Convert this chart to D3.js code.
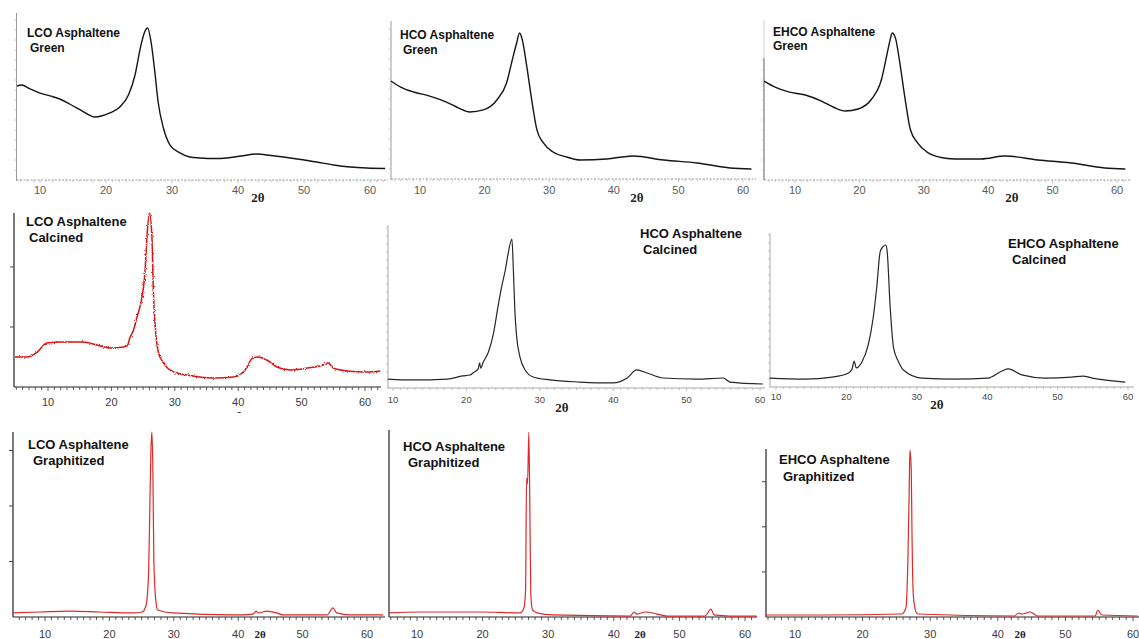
<!DOCTYPE html>
<html>
<head>
<meta charset="utf-8">
<script src="https://cdn.jsdelivr.net/npm/d3@7"></script>
<style>
  body { margin: 0; background: #fff; }
  svg { display: block; }
</style>
</head>
<body>
<svg id="chart" width="1139" height="639"></svg>
<script>
// XRD patterns of LCO / HCO / EHCO asphaltene: green, calcined, graphitized.
// 2θ in degrees, intensity as % of the strongest reflection in each pattern.

const tickLabels = [10, 20, 30, 40, 50, 60];

const lcoGreenTheta = [6.5,7.2,8.5,10,11.5,13,14.5,16.1,17.2,18.3,19.3,20.6,22.1,23.4,24.4,25.2,25.8,26.3,26.9,27.4,27.9,28.7,29.7,31.2,32.7,34.2,36.5,38.3,40.5,42.8,45,46.9,49.5,51.9,54.5,57,59.5,62.3];
const lcoGreenInt   = [61.8,62.5,59.9,57.2,55.3,53.3,50.0,46.1,43.4,41.4,42.1,44.1,48.0,55.9,69.1,86.8,96.7,100,88.8,71.1,51.3,34.2,23.0,17.8,15.1,14.5,14.1,14.5,15.8,17.1,16.1,15.1,13.5,11.8,9.9,8.6,7.9,7.6];

const hcoGreenTheta = [5.5,7.0,9.0,11.5,14.1,16.0,17.7,19.8,21.9,23.4,24.4,25.0,25.4,25.8,26.5,27.3,28.1,29.1,30.6,32.7,34.8,38.9,43.0,47.7,52.9,58.0,61.3];
const hcoGreenInt   = [67.1,63.0,59.6,56.8,52.7,48.6,45.9,47.3,54.1,65.8,83.6,93.8,100,96.0,78.0,54.0,33.6,24.7,18.5,15.1,13.0,13.7,15.8,13.0,11.0,7.5,6.8];

const ehcoGreenTheta = [5.2,7.0,9.0,11.6,14.1,16.0,17.8,19.8,21.9,23.4,24.2,24.7,25.1,25.6,26.3,27.1,27.9,29.0,30.5,32.5,34.8,38.9,42.6,47.7,52.9,58.1,61.3];
const ehcoGreenInt   = [67.3,63.0,59.9,57.8,53.7,49.5,46.9,48.3,55.1,68.0,83.7,94.0,100,96.5,79.0,55.0,34.5,25.5,19.0,15.5,14.3,14.3,16.3,13.6,11.6,8.2,7.5];

const lcoCalcTheta = [4.8,6.7,8.3,9.8,12.4,15.5,17.7,19.8,21.9,22.5,22.9,23.5,24.0,24.8,25.3,25.6,26.0,26.4,26.6,26.9,27.4,28.2,29.8,31.9,36.0,39.2,41.1,42.3,43.1,44.5,46.1,48.2,50.9,53.4,54.2,55.0,57.2,60.3,62.4];
const lcoCalcInt   = [17.2,17.2,20.1,25.3,25.9,25.9,24.1,22.4,23.0,23.6,28.2,32.8,39.7,51.1,66.1,85.6,100,85.6,56.9,35.6,20.1,13.8,8.6,6.9,5.2,5.7,9.8,16.7,17.2,15.5,11.5,9.8,10.9,12.6,13.8,10.9,9.2,8.6,9.2];

const hcoCalcTheta = [9.3,12.7,17.4,19.5,20.5,20.9,21.6,21.8,21.95,22.3,23.0,23.7,24.3,24.8,25.3,25.7,26.2,26.4,26.6,26.85,27.3,28.0,29.1,31.4,35.5,40.0,41.9,43.2,44.6,46.8,51.4,55.0,55.9,60.4];
const hcoCalcInt   = [6.0,5.4,6.0,8.1,8.7,10.1,12.8,16.8,13.4,17.4,24.2,36.9,54.4,67.8,79.2,90.6,100,79.2,52.3,34.2,20.8,12.1,7.4,5.4,4.0,3.4,6.7,12.1,10.1,6.7,6.0,6.7,4.0,2.7];

const ehcoCalcTheta = [9.1,14.1,18.0,20.3,20.8,21.1,21.4,22.2,23.1,23.8,24.3,24.8,25.2,25.6,25.8,26.2,26.7,27.4,28.1,30.7,35.4,40.1,42.1,43.0,44.9,48.2,52.0,53.6,54.9,59.6];
const ehcoCalcInt   = [6.3,5.6,7.0,9.9,12.7,18.3,13.4,17.6,29.6,48.6,69.7,95.3,98.8,100,95.1,57.7,27.5,17.8,12.0,6.3,5.6,6.3,11.3,12.7,8.5,6.3,7.0,7.7,6.3,3.5];

const lcoGraphTheta = [5.0,9.2,13.9,18.5,23.7,25.1,25.7,26.1,26.3,26.45,26.6,26.75,26.9,27.2,27.5,29.9,39.2,42.3,42.8,43.1,44.5,46.0,47.0,53.8,54.7,55.3,57.4,62.5];
const lcoGraphInt   = [2.2,2.7,3.2,2.7,2.2,2.7,6.5,25.4,63.2,90.3,100,79.5,30.8,9.2,3.8,2.2,1.1,1.6,3.2,2.2,3.2,2.2,1.1,1.1,4.9,2.2,1.1,1.1];

const hcoGraphTheta = [5.7,10.5,19.6,25.7,26.3,26.55,26.7,26.85,27.05,27.2,27.35,27.6,28.3,30.7,42.5,43.1,43.5,44.8,46.6,48.1,53.9,54.8,55.3,57.7,61.8];
const hcoGraphInt   = [2.2,2.7,2.7,2.2,4.9,14.6,75.1,72.0,100,60.0,12.0,4.0,2.2,1.1,0.5,2.7,1.6,2.7,1.6,0.5,0.5,4.3,1.1,0.5,0.5];

const ehcoGraphTheta = [5.7,14.0,25.8,26.4,26.7,26.9,27.0,27.2,27.3,27.5,27.9,28.2,42.5,43.0,43.6,44.8,45.9,54.4,54.8,55.4,60.7];
const ehcoGraphInt   = [1.2,1.2,1.8,5.4,34.1,77.8,100,88.0,52.0,13.2,3.0,1.8,0.6,2.4,1.8,3.0,0.6,0.6,4.2,1.2,0.6];

// Unlabelled y-axis tick positions (% intensity)
const lcoCalcYTicks = [34.5, 69];
const lcoGraphYTicks = [30, 60, 90];
const ehcoGraphYTicks = [27, 54, 81];

// Panel layout: pixel frame of each pattern and its decoration style
const panels = [
  { title: ["LCO Asphaltene", "Green"], theta: lcoGreenTheta, inten: lcoGreenInt,
    x10: 40, x60: 370, axisX: 16.5, xEnd: 388, base: 180, peakY: 28, axisTop: 13,
    style: "light", color: "#151515", lw: 1.4, jitter: 0,
    tx: 27, ty: 37, tx2: 30, ty2: 52, tfs: 12, labelY: 194, lfs: 11, thx: 258, thy: 202, thfs: 13 },
  { title: ["HCO Asphaltene", "Green"], theta: hcoGreenTheta, inten: hcoGreenInt,
    x10: 420, x60: 743, axisX: 391, xEnd: 756, base: 179, peakY: 33, axisTop: 21,
    style: "light", color: "#151515", lw: 1.4, jitter: 0,
    tx: 400, ty: 39, tx2: 403, ty2: 54, tfs: 12, labelY: 194, lfs: 11, thx: 637, thy: 202, thfs: 13 },
  { title: ["EHCO Asphaltene", "Green"], theta: ehcoGreenTheta, inten: ehcoGreenInt,
    x10: 795, x60: 1117, axisX: 764, xEnd: 1130, base: 180, peakY: 33, axisTop: 20, axisDarkTop: 58,
    style: "light", color: "#151515", lw: 1.4, jitter: 0,
    tx: 773, ty: 36, tx2: 773, ty2: 50, tfs: 12, labelY: 194, lfs: 11, thx: 1012, thy: 202, thfs: 13 },
  { title: ["LCO Asphaltene", "Calcined"], theta: lcoCalcTheta, inten: lcoCalcInt,
    x10: 48, x60: 365, axisX: 14, xEnd: 381, base: 387, peakY: 213, axisTop: 213,
    style: "dark", color: "#d81414", lw: 1.5, jitter: 3, yTicks: lcoCalcYTicks,
    tx: 26, ty: 226, tx2: 29, ty2: 242, tfs: 13, labelY: 406, lfs: 11, thx: 236, thy: 421, thfs: 13, thClip: 413 },
  { title: ["HCO Asphaltene", "Calcined"], theta: hcoCalcTheta, inten: hcoCalcInt,
    x10: 393, x60: 760, axisX: 388, xEnd: 765, base: 388, peakY: 239, axisTop: 225,
    style: "thin", color: "#262626", lw: 1.2, jitter: 0,
    tx: 640, ty: 238, tx2: 643, ty2: 254, tfs: 13, labelY: 403, lfs: 9.5, thx: 562, thy: 412, thfs: 13 },
  { title: ["EHCO Asphaltene", "Calcined"], theta: ehcoCalcTheta, inten: ehcoCalcInt,
    x10: 776, x60: 1128, axisX: 770, xEnd: 1134, base: 387, peakY: 245, axisTop: 233,
    style: "thin", color: "#262626", lw: 1.2, jitter: 0,
    tx: 1008, ty: 248, tx2: 1012, ty2: 264, tfs: 13, labelY: 400, lfs: 9.5, thx: 937, thy: 409, thfs: 13 },
  { title: ["LCO Asphaltene", "Graphitized"], theta: lcoGraphTheta, inten: lcoGraphInt,
    x10: 45, x60: 367, axisX: 13, xEnd: 385, base: 617, peakY: 432, axisTop: 432,
    style: "dark", color: "#e02828", lw: 1.2, jitter: 0, yTicks: lcoGraphYTicks,
    tx: 28, ty: 449, tx2: 33, ty2: 465, tfs: 13, labelY: 638, lfs: 11, thx: 260, thy: 638, thfs: 11 },
  { title: ["HCO Asphaltene", "Graphitized"], theta: hcoGraphTheta, inten: hcoGraphInt,
    x10: 417, x60: 745, axisX: 389, xEnd: 757, base: 617, peakY: 432, axisTop: 430,
    style: "dark", color: "#e02828", lw: 1.2, jitter: 0,
    tx: 403, ty: 451, tx2: 408, ty2: 467, tfs: 13, labelY: 638, lfs: 11, thx: 640, thy: 638, thfs: 11 },
  { title: ["EHCO Asphaltene", "Graphitized"], theta: ehcoGraphTheta, inten: ehcoGraphInt,
    x10: 795, x60: 1133, axisX: 766, xEnd: 1139, base: 617, peakY: 450, axisTop: 449,
    style: "dark", color: "#e02828", lw: 1.2, jitter: 0, yTicks: ehcoGraphYTicks,
    tx: 779, ty: 464, tx2: 783, ty2: 481, tfs: 13, labelY: 638, lfs: 11, thx: 1020, thy: 638, thfs: 11 }
];

const styles = {
  light: { axis: "#9a9a9a", tick: "#b5b5b5", label: "#5a5a5a", dash: "2,1.5", tickLen: 2 },
  thin:  { axis: "#a8a8a8", tick: "#b0b0b0", label: "#4a4a4a", dash: null, tickLen: 2 },
  dark:  { axis: "#222",    tick: "#333",    label: "#3c3c3c", dash: null, tickLen: 3 }
};

const svg = d3.select("#chart");
svg.append("rect").attr("width", 1139).attr("height", 639).attr("fill", "#fff");

// Fine-grained displacement that gives the noisy calcined trace its ragged look
const defs = svg.append("defs");
const jf = defs.append("filter").attr("id", "jit3")
  .attr("x", "-3%").attr("y", "-10%").attr("width", "106%").attr("height", "120%");
jf.append("feTurbulence").attr("type", "fractalNoise").attr("baseFrequency", 0.9)
  .attr("numOctaves", 1).attr("seed", 7).attr("result", "n");
jf.append("feDisplacementMap").attr("in", "SourceGraphic").attr("in2", "n")
  .attr("scale", 3).attr("xChannelSelector", "R").attr("yChannelSelector", "G");

const titleFont = "'Liberation Sans', Arial, sans-serif";

panels.forEach((p, i) => {
  const st = styles[p.style];
  const g = svg.append("g").attr("class", "panel");
  const x = d3.scaleLinear().domain([10, 60]).range([p.x10, p.x60]);
  const y = d3.scaleLinear().domain([0, 100]).range([p.base, p.peakY]);

  // x axis: baseline, one-degree minor ticks and decade labels
  g.append("line")
    .attr("x1", p.axisX).attr("x2", p.xEnd).attr("y1", p.base).attr("y2", p.base)
    .attr("stroke", st.axis).attr("stroke-width", 1)
    .attr("stroke-dasharray", st.dash);
  const t0 = Math.ceil(x.invert(p.axisX + 1));
  const t1 = Math.floor(x.invert(p.xEnd - 1));
  g.selectAll("line.minor").data(d3.range(t0, t1 + 1)).join("line")
    .attr("class", "minor")
    .attr("x1", d => x(d)).attr("x2", d => x(d))
    .attr("y1", p.base).attr("y2", d => p.base + (d % 10 === 0 ? st.tickLen + 1 : st.tickLen))
    .attr("stroke", st.tick).attr("stroke-width", 0.8);
  g.selectAll("text.tl").data(tickLabels).join("text")
    .attr("class", "tl")
    .attr("x", d => x(d)).attr("y", p.labelY)
    .attr("text-anchor", "middle")
    .attr("font-family", "Arial, 'Liberation Sans', sans-serif")
    .attr("font-size", p.lfs).attr("fill", st.label)
    .text(d => d);

  // y axis
  if (p.axisDarkTop) {
    g.append("line").attr("x1", p.axisX).attr("x2", p.axisX)
      .attr("y1", p.axisTop).attr("y2", p.axisDarkTop)
      .attr("stroke", "#d0d0d0").attr("stroke-width", 1);
    g.append("line").attr("x1", p.axisX).attr("x2", p.axisX)
      .attr("y1", p.axisDarkTop).attr("y2", p.base)
      .attr("stroke", "#777").attr("stroke-width", 1.2);
  } else {
    g.append("line").attr("x1", p.axisX).attr("x2", p.axisX)
      .attr("y1", p.axisTop).attr("y2", p.base + (p.style === "dark" ? 0 : 1))
      .attr("stroke", st.axis).attr("stroke-width", p.style === "dark" ? 1.2 : 1);
  }
  if (p.yTicks) {
    g.selectAll("line.yt").data(p.yTicks).join("line")
      .attr("class", "yt")
      .attr("x1", p.axisX - 4).attr("x2", p.axisX)
      .attr("y1", d => y(d)).attr("y2", d => y(d))
      .attr("stroke", "#444").attr("stroke-width", 1);
  } else if (p.style !== "dark") {
    const step = p.style === "thin" ? 8 : 10;
    const top = p.axisDarkTop || p.axisTop;
    g.selectAll("line.yt").data(d3.range(p.base - step, top, -step)).join("line")
      .attr("class", "yt")
      .attr("x1", p.axisX - 2.5).attr("x2", p.axisX)
      .attr("y1", d => d).attr("y2", d => d)
      .attr("stroke", "#c4c4c4").attr("stroke-width", 0.8);
  }

  // diffraction pattern
  const line = d3.line()
    .x(d => x(d[0])).y(d => y(d[1]))
    .curve(d3.curveMonotoneX);
  const path = g.append("path")
    .datum(d3.zip(p.theta, p.inten))
    .attr("d", line)
    .attr("fill", "none")
    .attr("stroke", p.color)
    .attr("stroke-width", p.lw)
    .attr("stroke-linejoin", "round");
  if (p.jitter) path.attr("filter", "url(#jit" + p.jitter + ")");

  // sample title
  const tt = g.append("text").attr("font-family", titleFont).attr("font-weight", "bold")
    .attr("font-size", p.tfs).attr("fill", "#111");
  tt.append("tspan").attr("x", p.tx).attr("y", p.ty).text(p.title[0]);
  tt.append("tspan").attr("x", p.tx2).attr("y", p.ty2).text(p.title[1]);

  // 2θ axis caption
  const th = g.append("text")
    .attr("x", p.thx).attr("y", p.thy)
    .attr("text-anchor", "middle")
    .attr("font-family", "'Liberation Serif', 'Times New Roman', serif")
    .attr("font-weight", "bold").attr("font-size", p.thfs).attr("fill", "#222")
    .text("2θ");
  if (p.thClip) {
    const cid = "thclip" + i;
    defs.append("clipPath").attr("id", cid).append("rect")
      .attr("x", p.thx - 20).attr("y", 0).attr("width", 40).attr("height", p.thClip);
    th.attr("clip-path", "url(#" + cid + ")");
  }
});
</script>
</body>
</html>
